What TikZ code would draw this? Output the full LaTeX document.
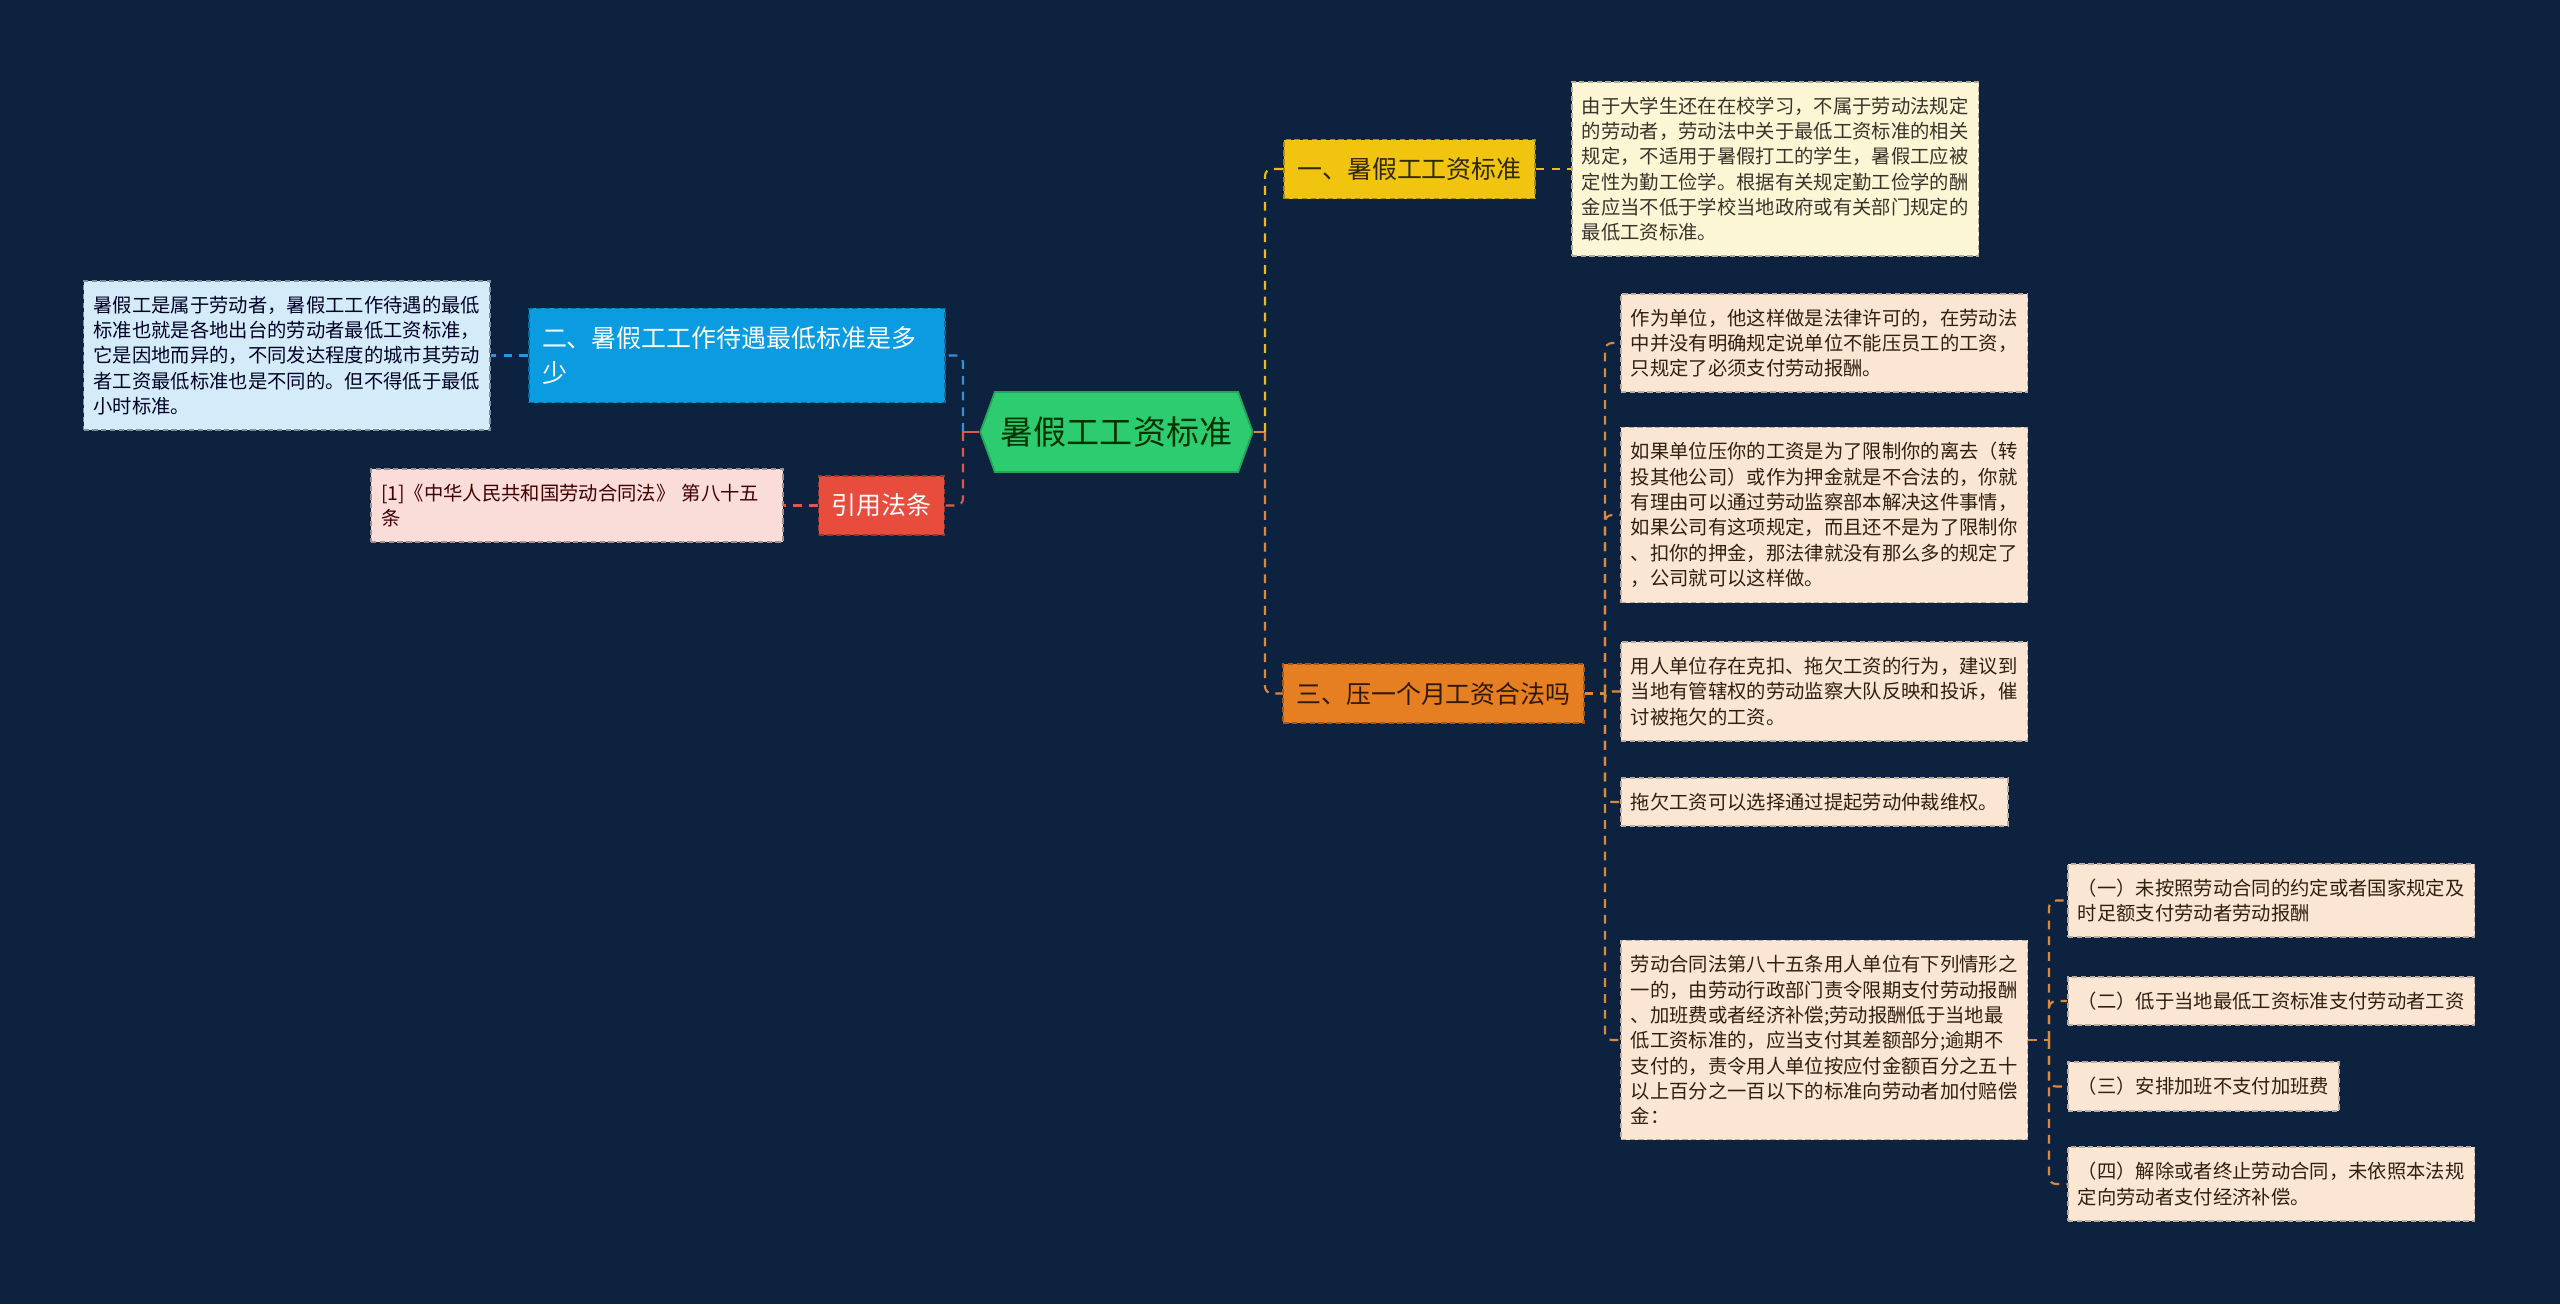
\documentclass[tikz,border=0pt]{standalone}
\usepackage{fontspec}
\setmainfont{Noto Sans CJK SC}
\usetikzlibrary{shapes.symbols,calc,positioning}

\definecolor{bgNavy}{HTML}{0C223E}
\definecolor{rootGreen}{HTML}{2ECC71}
\definecolor{brYellow}{HTML}{F1C40F}
\definecolor{brBlue}{HTML}{0A9BE0}
\definecolor{brRed}{HTML}{E74C3C}
\definecolor{brOrange}{HTML}{E67E22}
\definecolor{lfCream}{HTML}{FDF6D5}
\definecolor{lfBlue}{HTML}{D4ECF9}
\definecolor{lfPink}{HTML}{FADCD9}
\definecolor{lfPeach}{HTML}{FBE6D4}
\definecolor{lnYellow}{HTML}{E8BE1A}
\definecolor{lnBlue}{HTML}{2E95DC}
\definecolor{lnRed}{HTML}{E0584A}
\definecolor{lnOrange}{HTML}{D98A40}

\tikzset{
  rootbox/.style={signal, signal to=east and west, signal pointer angle=140,
    fill=rootGreen, draw=rootGreen!80!black, line width=0.5pt,
    minimum height=0.8cm, inner xsep=0.06cm, text=black!80!green,
    font=\fontsize{9.4}{11}\selectfont},
  branchbox/.style={rectangle, draw, dash pattern=on 1.5pt off 1pt, line width=0.5pt,
    inner xsep=0.13cm, inner ysep=0.18cm, align=left,
    font=\fontsize{7.1}{10}\selectfont},
  leafbox/.style={rectangle, draw, dash pattern=on 1.5pt off 1pt, line width=0.5pt,
    inner xsep=0.1cm, inner ysep=0.15cm, align=left,
    font=\fontsize{5.5}{7.2}\selectfont},
  peachleaf/.style={leafbox, fill=lfPeach, draw=lfPeach!75!black, text=black!75!brown},
  linkline/.style={line width=0.6pt, dash pattern=on 2.5pt off 2pt, rounded corners=2pt}
}

\begin{document}
\begin{tikzpicture}
\useasboundingbox[fill=bgNavy] (0,0) rectangle (25.6,-13.04);

% centre
\node[rootbox] (root) at (11.165,-4.32) {暑假工工资标准};

% first level
\node[branchbox, fill=brYellow, draw=brYellow!70!black, text=black!80!brYellow] (b1) at (14.095,-1.69) {一、暑假工工资标准};
\node[branchbox, fill=brBlue, draw=brBlue!70!black, text=white, text width=3.9cm] (b2) at (7.37,-3.555) {二、暑假工工作待遇最低标准是多\\少};
\node[branchbox, fill=brRed, draw=brRed!70!black, text=white] (b3) at (8.815,-5.055) {引用法条};
\node[branchbox, fill=brOrange, draw=brOrange!70!black, text=black!80!brOrange] (b4) at (14.335,-6.935) {三、压一个月工资合法吗};

% leaves
\node[leafbox, fill=lfCream, draw=lfCream!70!black, text=black!80!olive, anchor=west] (a1) at (15.71,-1.69) {由于大学生还在在校学习，不属于劳动法规定\\的劳动者，劳动法中关于最低工资标准的相关\\规定，不适用于暑假打工的学生，暑假工应被\\定性为勤工俭学。根据有关规定勤工俭学的酬\\金应当不低于学校当地政府或有关部门规定的\\最低工资标准。};
\node[leafbox, fill=lfBlue, draw=lfBlue!60!black, text=black!85!blue, anchor=east] (a2) at (4.91,-3.555) {暑假工是属于劳动者，暑假工工作待遇的最低\\标准也就是各地出台的劳动者最低工资标准，\\它是因地而异的，不同发达程度的城市其劳动\\者工资最低标准也是不同的。但不得低于最低\\小时标准。};
\node[leafbox, fill=lfPink, draw=lfPink!65!black, text=black!75!red, text width=3.92cm, anchor=east] (a3) at (7.84,-5.055) {[1]《中华人民共和国劳动合同法》 第八十五\\条};

\node[peachleaf, anchor=west] (c1) at (16.20,-3.43) {作为单位，他这样做是法律许可的，在劳动法\\中并没有明确规定说单位不能压员工的工资，\\只规定了必须支付劳动报酬。};
\node[peachleaf, anchor=west] (c2) at (16.20,-5.15) {如果单位压你的工资是为了限制你的离去（转\\投其他公司）或作为押金就是不合法的，你就\\有理由可以通过劳动监察部本解决这件事情，\\如果公司有这项规定，而且还不是为了限制你\\、扣你的押金，那法律就没有那么多的规定了\\，公司就可以这样做。};
\node[peachleaf, anchor=west] (c3) at (16.20,-6.915) {用人单位存在克扣、拖欠工资的行为，建议到\\当地有管辖权的劳动监察大队反映和投诉，催\\讨被拖欠的工资。};
\node[peachleaf, anchor=west] (c4) at (16.20,-8.02) {拖欠工资可以选择通过提起劳动仲裁维权。};
\node[peachleaf, anchor=west] (c5) at (16.20,-10.40) {劳动合同法第八十五条用人单位有下列情形之\\一的，由劳动行政部门责令限期支付劳动报酬\\、加班费或者经济补偿;劳动报酬低于当地最\\低工资标准的，应当支付其差额部分;逾期不\\支付的，责令用人单位按应付金额百分之五十\\以上百分之一百以下的标准向劳动者加付赔偿\\金：};

\node[peachleaf, anchor=west] (d1) at (20.67,-9.005) {（一）未按照劳动合同的约定或者国家规定及\\时足额支付劳动者劳动报酬};
\node[peachleaf, anchor=west] (d2) at (20.67,-10.01) {（二）低于当地最低工资标准支付劳动者工资};
\node[peachleaf, anchor=west] (d3) at (20.67,-10.865) {（三）安排加班不支付加班费};
\node[peachleaf, anchor=west] (d4) at (20.67,-11.84) {（四）解除或者终止劳动合同，未依照本法规\\定向劳动者支付经济补偿。};

% trunks
\coordinate (rt) at (12.65,-4.32);
\coordinate (lt) at (9.63,-4.32);
\coordinate (ot) at (16.05,-6.935);
\coordinate (dt) at (20.49,-10.40);

\draw[line width=0.6pt, lnOrange] (root.east) -- (rt);
\draw[line width=0.6pt, lnRed] (root.west) -- (lt);
\draw[linkline, lnYellow] (rt) |- (b1.west);
\draw[linkline, lnOrange] (rt) |- (b4.west);
\draw[linkline, lnBlue] (lt) |- (b2.east);
\draw[linkline, lnRed] (lt) |- (b3.east);

\draw[linkline, lnYellow] (b1.east) -- (a1.west);
\draw[linkline, lnBlue] (b2.west) -- (a2.east);
\draw[linkline, lnRed] (b3.west) -- (a3.east);

\draw[linkline, lnOrange] (b4.east) -- (ot);
\draw[linkline, lnOrange] (ot) |- (c1.west);
\draw[linkline, lnOrange] (ot) |- (c2.west);
\draw[linkline, lnOrange] (ot) |- (c3.west);
\draw[linkline, lnOrange] (ot) |- (c4.west);
\draw[linkline, lnOrange] (ot) |- (c5.west);

\draw[linkline, lnOrange] (c5.east) -- (dt);
\draw[linkline, lnOrange] (dt) |- (d1.west);
\draw[linkline, lnOrange] (dt) |- (d2.west);
\draw[linkline, lnOrange] (dt) |- (d3.west);
\draw[linkline, lnOrange] (dt) |- (d4.west);

\end{tikzpicture}
\end{document}
